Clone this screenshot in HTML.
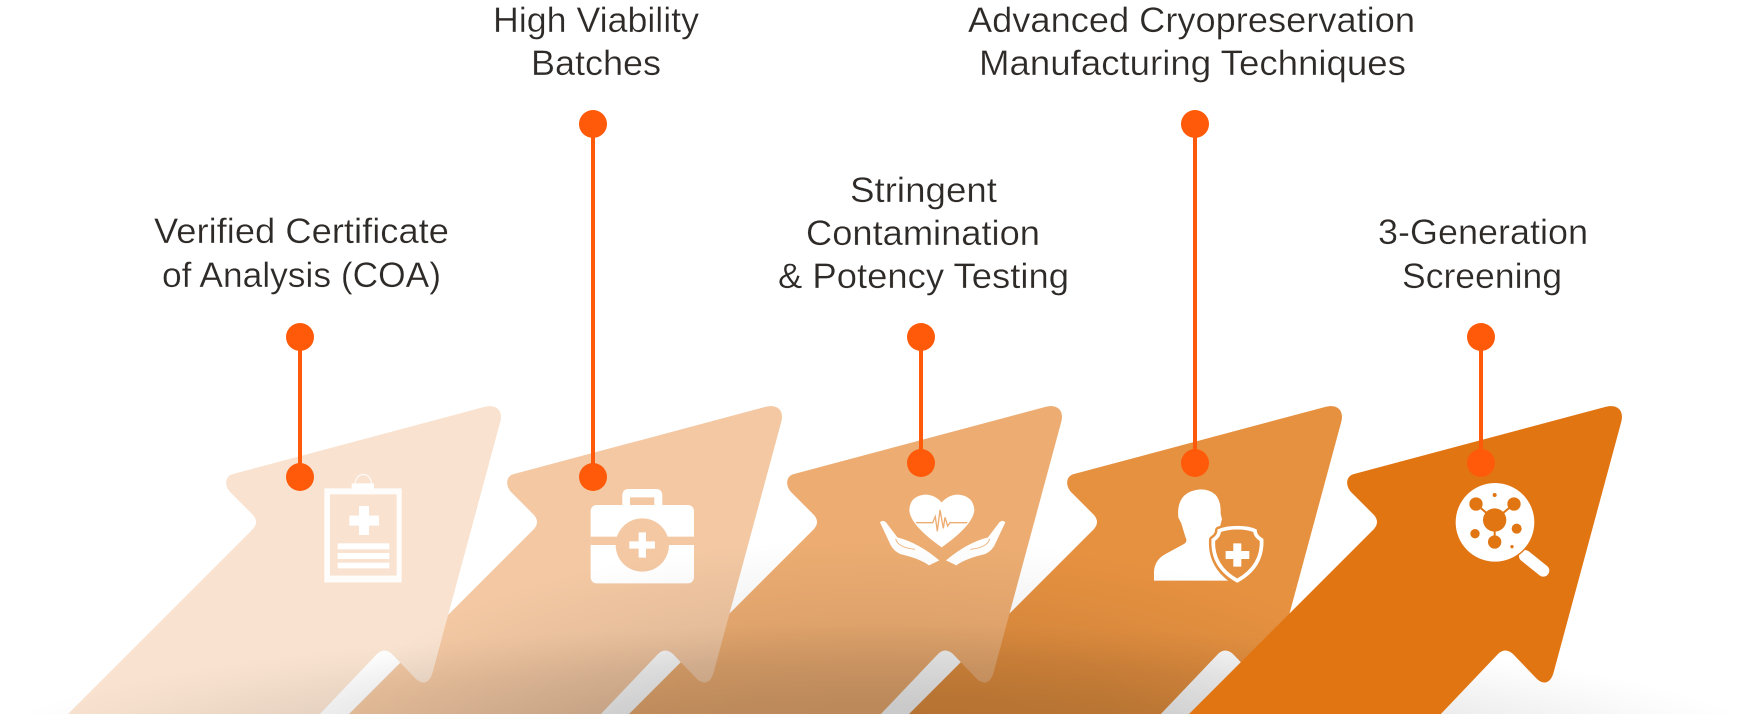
<!DOCTYPE html>
<html>
<head>
<meta charset="utf-8">
<style>
html,body{margin:0;padding:0;background:#fff;width:1760px;height:714px;overflow:hidden}
svg{display:block}
text{font-family:"Liberation Sans",Arial,sans-serif;font-size:35px;fill:#2e2a27;stroke:#fff;stroke-width:.3px}
</style>
</head>
<body>
<svg width="1760" height="714" viewBox="0 0 1760 714" xmlns="http://www.w3.org/2000/svg">
<defs>
<path id="arrow" d="M233 474 L484 407 C495 404 503 409 500.5 421 L433 671 C430 684 422 686 414 677 L392 654 Q384 647 377 654 L317 717 L65 717 L251 531 Q261 522 251 513 L230 492 C224 485 225 476 233 474 Z"/>
<radialGradient id="sh1" cx="880" cy="750" r="900" gradientUnits="userSpaceOnUse" gradientTransform="translate(0 750) scale(1 0.14) translate(0 -750)">
<stop offset="0" stop-color="#000" stop-opacity=".13"/>
<stop offset=".4" stop-color="#000" stop-opacity=".12"/>
<stop offset=".7" stop-color="#000" stop-opacity=".07"/>
<stop offset=".9" stop-color="#000" stop-opacity=".02"/>
<stop offset="1" stop-color="#000" stop-opacity="0"/>
</radialGradient>
<radialGradient id="sh2" cx="880" cy="750" r="560" gradientUnits="userSpaceOnUse" gradientTransform="translate(0 750) scale(1 0.38) translate(0 -750)">
<stop offset="0" stop-color="#000" stop-opacity=".11"/>
<stop offset=".5" stop-color="#000" stop-opacity=".08"/>
<stop offset=".8" stop-color="#000" stop-opacity=".03"/>
<stop offset="1" stop-color="#000" stop-opacity="0"/>
</radialGradient>
</defs>

<!-- arrows -->
<use href="#arrow" x="841" fill="#e69140"/>
<use href="#arrow" x="561" fill="#edad72"/>
<use href="#arrow" x="281" fill="#f3c8a3"/>
<use href="#arrow" x="0" fill="#f9e3d0"/>

<!-- icon 1: clipboard -->
<g transform="translate(300 460) scale(.3333)" fill="#fff">
<path fill-rule="evenodd" d="M73 85H305V367H73Z M90 103V347H290V103Z" fill-opacity=".93"/>
<rect x="155" y="70" width="67" height="16" rx="4"/>
<path d="M165 70 Q170 44 190 43 Q210 44 215 70" fill="none" stroke="#fff" stroke-width="3"/>
<path d="M177 138H207V167H237V197H207V225H177V197H148V167H177Z"/>
<rect x="113" y="250" width="155" height="18"/>
<rect x="113" y="279" width="155" height="18"/>
<rect x="113" y="308" width="155" height="17"/>
</g>

<!-- icon 2: medical kit -->
<g transform="translate(300 460) scale(.3333)">
<path fill="#fff" fill-rule="evenodd" d="M967 135V107Q967 87 987 87H1067Q1087 87 1087 107V135Z M990 112V135H1063V112Z"/>
<rect x="872" y="135" width="310" height="235" rx="18" fill="#fff"/>
<rect x="872" y="230" width="310" height="25" fill="#f3c8a3"/>
<circle cx="1027" cy="255" r="80" fill="#f3c8a3"/>
<path fill="#fff" d="M1016 217H1038V244H1065V266H1038V293H1016V266H988V244H1016Z"/>
</g>

<!-- icon 3: heart + hands -->
<g transform="translate(860 460) scale(.3333)">
<path fill="#fff" d="M245 127 Q222 103 195 104 Q150 108 148 150 Q150 195 245 262 Q340 195 343 150 Q340 108 295 104 Q268 103 245 127Z"/>
<path fill="none" stroke="#edad72" stroke-width="4" d="M168 188H218L226 170L232 214L240 150L250 205L255 172L263 198L270 188H322"/>
<path fill="#fff" d="M60 187 Q68 178 78 187 L112 232 Q175 248 238 301 L207 316 Q180 296 120 282 Q100 272 92 255 Z"/>
<path fill="none" stroke="#edad72" stroke-width="2.5" d="M107 236 Q112 262 165 268"/>
<g transform="translate(496 0) scale(-1 1)">
<path fill="#fff" d="M60 187 Q68 178 78 187 L112 232 Q175 248 238 301 L207 316 Q180 296 120 282 Q100 272 92 255 Z"/>
<path fill="none" stroke="#edad72" stroke-width="2.5" d="M107 236 Q112 262 165 268"/>
</g>
</g>

<!-- icon 4: person + shield -->
<g transform="translate(860 460) scale(.3333)">
<path fill="#fff" d="M882 362 V335 Q884 298 920 280 L972 252 Q984 245 976 230 L964 190 L955 172 Q948 95 1020 88 Q1085 88 1082 160 L1086 178 L1076 215 Q1072 240 1085 262 L1120 362 Z"/>
<path fill="#e69140" stroke="#e69140" stroke-width="26" stroke-linejoin="round" d="M1132 203 Q1165 203 1185 212 Q1185 228 1205 240 Q1208 320 1132 365 Q1056 320 1060 240 Q1078 228 1078 212 Q1100 203 1132 203 Z"/>
<path fill="#e69140" stroke="#fff" stroke-width="11" d="M1132 203 Q1165 203 1185 212 Q1185 228 1205 240 Q1208 320 1132 362 Q1056 320 1060 240 Q1078 228 1078 212 Q1100 203 1132 203 Z"/>
<path fill="#fff" d="M1120 250H1144V273H1168V297H1144V320H1120V297H1097V273H1120Z"/>
</g>

<!-- shadow -->
<rect x="0" y="540" width="1760" height="174" fill="url(#sh1)"/>
<rect x="0" y="540" width="1760" height="174" fill="url(#sh2)"/>

<!-- arrow 5 on top -->
<use href="#arrow" x="1121" fill="#e17512"/>

<!-- icon 5: magnifier -->
<g transform="translate(1400 460) scale(.3333)">
<path d="M375 288 L430 332" stroke="#fff" stroke-width="36" stroke-linecap="round" fill="none"/>
<circle cx="285" cy="187" r="122" fill="#e17512"/>
<circle cx="285" cy="187" r="118" fill="#fff"/>
<g fill="#e17512" stroke="none">
<path d="M284 180L228 132M284 180L342 132M284 180V246" stroke="#e17512" stroke-width="6" fill="none"/>
<circle cx="284" cy="180" r="35"/>
<circle cx="228" cy="132" r="20"/>
<circle cx="342" cy="132" r="20"/>
<circle cx="225" cy="221" r="14"/>
<circle cx="350" cy="206" r="15"/>
<circle cx="284" cy="246" r="20"/>
<circle cx="284" cy="105" r="6"/>
<circle cx="336" cy="260" r="5"/>
</g>
</g>

<!-- connectors -->
<g stroke="#ff5a09" stroke-width="4" fill="#ff5a09">
<line x1="300" y1="337" x2="300" y2="477"/>
<line x1="593" y1="124" x2="593" y2="477"/>
<line x1="921" y1="337" x2="921" y2="463"/>
<line x1="1195" y1="124" x2="1195" y2="463"/>
<line x1="1481" y1="337" x2="1481" y2="463"/>
</g>
<g fill="#ff5a09">
<circle cx="300" cy="337" r="14"/><circle cx="300" cy="477" r="14"/>
<circle cx="593" cy="124" r="14"/><circle cx="593" cy="477" r="14"/>
<circle cx="921" cy="337" r="14"/><circle cx="921" cy="463" r="14"/>
<circle cx="1195" cy="124" r="14"/><circle cx="1195" cy="463" r="14"/>
<circle cx="1481" cy="337" r="14"/><circle cx="1481" cy="463" r="14"/>
</g>

<!-- labels -->
<text x="154" y="243" textLength="295" lengthAdjust="spacingAndGlyphs">Verified Certificate</text>
<text x="162" y="287" textLength="279" lengthAdjust="spacingAndGlyphs">of Analysis (COA)</text>
<text x="493" y="32" textLength="206" lengthAdjust="spacingAndGlyphs">High Viability</text>
<text x="531" y="75" textLength="130" lengthAdjust="spacingAndGlyphs">Batches</text>
<text x="850" y="202" textLength="147" lengthAdjust="spacingAndGlyphs">Stringent</text>
<text x="806" y="245" textLength="234" lengthAdjust="spacingAndGlyphs">Contamination</text>
<text x="778" y="288" textLength="291" lengthAdjust="spacingAndGlyphs">&amp; Potency Testing</text>
<text x="968" y="32" textLength="447" lengthAdjust="spacingAndGlyphs">Advanced Cryopreservation</text>
<text x="979" y="75" textLength="427" lengthAdjust="spacingAndGlyphs">Manufacturing Techniques</text>
<text x="1378" y="244" textLength="210" lengthAdjust="spacingAndGlyphs">3-Generation</text>
<text x="1402" y="288" textLength="160" lengthAdjust="spacingAndGlyphs">Screening</text>
</svg>
</body>
</html>
